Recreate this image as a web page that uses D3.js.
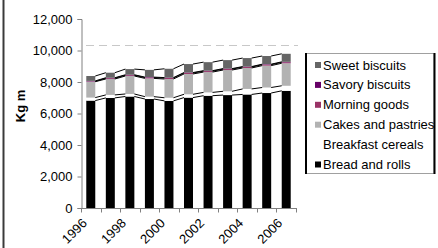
<!DOCTYPE html>
<html>
<head>
<meta charset="utf-8">
<script src="https://cdn.jsdelivr.net/npm/d3@7"></script>
<style>
  body { margin: 0; background: #fff; }
  text { font-family: "Liberation Sans", Arial, sans-serif; }
</style>
</head>
<body>
<div id="chart"></div>
<script>
/**
 * Data
 */
// years on the x axis
var years = ["1996","1997","1998","1999","2000","2001","2002","2003","2004","2005","2006"];
// only every other year gets a label
var yearLabels = ["1996","1998","2000","2002","2004","2006"];
// stacked series, bottom to top (kg m)
var breadRolls      = [6820, 6990, 7080, 6920, 6800, 7010, 7130, 7170, 7210, 7300, 7440];
var breakfastCereal = [ 190,  190,  160,  150,  200,  210,  210,  240,  350,  350,  320];
var cakesPastries   = [1010, 1010, 1140, 1160, 1190, 1290, 1290, 1350, 1330, 1390, 1430];
var morningGoods    = [  20,   50,   50,   50,   60,   60,   60,   60,   60,   60,   60];
var savoryBiscuits  = [  30,   30,   30,   30,   30,   30,   30,   30,   30,   30,   30];
var sweetBiscuits   = [ 310,  320,  360,  460,  560,  540,  540,  540,  540,  520,  510];
// series names (bottom to top)
var seriesNames = ["Bread and rolls","Breakfast cereals","Cakes and pastries","Morning goods","Savory biscuits","Sweet biscuits"];
var seriesColors = ["#000000","#ffffff","#b2b2b2","#993366","#660066","#666666"];
// y ticks
var yTicks = [0, 2000, 4000, 6000, 8000, 10000, 12000];
// dashed reference line level
var refLevel = 10350;

/**
 * Chart
 */
var svgWidth = 438;
var svgHeight = 248;

var svg = d3.select("#chart")
  .append("svg")
  .attr("width", svgWidth)
  .attr("height", svgHeight);

// chart frame edge on the left
svg.append("line")
  .attr("x1", 3.5).attr("x2", 3.5)
  .attr("y1", 0).attr("y2", svgHeight)
  .attr("stroke", "#3a3a3a")
  .attr("stroke-width", 2);

// scales
var gap = 0.54;
var xScale = d3.scaleBand()
  .domain(years)
  .range([81, 296])
  .paddingInner(gap)
  .paddingOuter(gap / 2);

var yScale = d3.scaleLinear()
  .domain([0, 12000])
  .range([208, 19]);

// build table for the stack
var table = years.map((y, i) => {
  var row = { year: y };
  row[seriesNames[0]] = breadRolls[i];
  row[seriesNames[1]] = breakfastCereal[i];
  row[seriesNames[2]] = cakesPastries[i];
  row[seriesNames[3]] = morningGoods[i];
  row[seriesNames[4]] = savoryBiscuits[i];
  row[seriesNames[5]] = sweetBiscuits[i];
  return row;
});
var stacked = d3.stack().keys(seriesNames)(table);

// dashed line
svg.append("line")
  .attr("x1", 86).attr("x2", 298)
  .attr("y1", Math.round(yScale(refLevel)) + 0.5)
  .attr("y2", Math.round(yScale(refLevel)) + 0.5)
  .attr("stroke", "#c8c8c8")
  .attr("stroke-dasharray", "8,5");

// bars
var layers = svg.append("g").selectAll("g")
  .data(stacked)
  .enter().append("g")
  .attr("fill", (d, i) => seriesColors[i]);

layers.selectAll("rect")
  .data(d => d)
  .enter().append("rect")
  .attr("x", d => xScale(d.data.year))
  .attr("y", d => yScale(d[1]))
  .attr("width", xScale.bandwidth())
  .attr("height", d => yScale(d[0]) - yScale(d[1]));

// series lines between the bars
var seriesLines = svg.append("g")
  .attr("stroke", "#000")
  .attr("stroke-width", 1)
  .attr("fill", "none");
stacked.forEach(layer => {
  for (var i = 0; i < layer.length - 1; i++) {
    seriesLines.append("line")
      .attr("x1", xScale(layer[i].data.year) + xScale.bandwidth())
      .attr("y1", yScale(layer[i][1]))
      .attr("x2", xScale(layer[i + 1].data.year))
      .attr("y2", yScale(layer[i + 1][1]));
  }
});

// y axis
var yAxis = d3.axisLeft(yScale)
  .tickValues(yTicks)
  .tickFormat(d3.format(","))
  .tickSize(4)
  .tickPadding(5);
var yG = svg.append("g")
  .attr("transform", "translate(81.5,0)")
  .call(yAxis);
yG.select(".domain").attr("stroke", "#808080");
yG.selectAll(".tick line").attr("stroke", "#808080");
yG.selectAll(".tick text")
  .attr("font-family", "Liberation Sans, Arial, sans-serif")
  .attr("font-size", 13)
  .attr("fill", "#000");

// x axis (ticks on category boundaries)
var step = xScale.step();
var x0 = 81;
var xG = svg.append("g");
xG.append("line")
  .attr("x1", x0).attr("x2", 296)
  .attr("y1", 208.5).attr("y2", 208.5)
  .attr("stroke", "#808080");
d3.range(years.length + 1).forEach(i => {
  var bx = Math.round(x0 + i * step) + 0.5;
  xG.append("line")
    .attr("x1", bx).attr("x2", bx)
    .attr("y1", 208).attr("y2", 212.5)
    .attr("stroke", "#808080");
});
xG.selectAll("text")
  .data(yearLabels)
  .enter().append("text")
  .attr("text-anchor", "end")
  .attr("font-size", 13)
  .attr("transform", d => `translate(${xScale(d) + xScale.bandwidth() / 2 - 3},224) rotate(-45)`)
  .text(d => d);

// y title
svg.append("text")
  .attr("transform", "translate(25,106) rotate(-90)")
  .attr("text-anchor", "middle")
  .attr("font-size", 13)
  .attr("font-weight", "bold")
  .text("Kg m");

// legend
var legend = svg.append("g");
legend.append("rect")
  .attr("x", 306).attr("y", 53.5)
  .attr("width", 128).attr("height", 120)
  .attr("fill", "#fff")
  .attr("stroke", "#a0a0a0");
legend.append("line")
  .attr("x1", 306).attr("x2", 306).attr("y1", 53).attr("y2", 174)
  .attr("stroke", "#000").attr("stroke-width", 2);
legend.append("line")
  .attr("x1", 434.5).attr("x2", 434.5).attr("y1", 53).attr("y2", 174)
  .attr("stroke", "#000").attr("stroke-width", 2);

var legendOrder = seriesNames.map((d, i) => i).reverse();
var items = legend.selectAll(".item")
  .data(legendOrder)
  .enter().append("g")
  .attr("class", "item")
  .attr("transform", (d, k) => `translate(315,${65 + k * 19.9})`);
items.append("rect")
  .attr("x", 0).attr("y", -3)
  .attr("width", 6).attr("height", 6)
  .attr("fill", d => seriesColors[d]);
items.append("text")
  .attr("x", 8)
  .attr("y", 4.5)
  .attr("font-size", 13)
  .text(d => seriesNames[d]);
</script>
</body>
</html>
